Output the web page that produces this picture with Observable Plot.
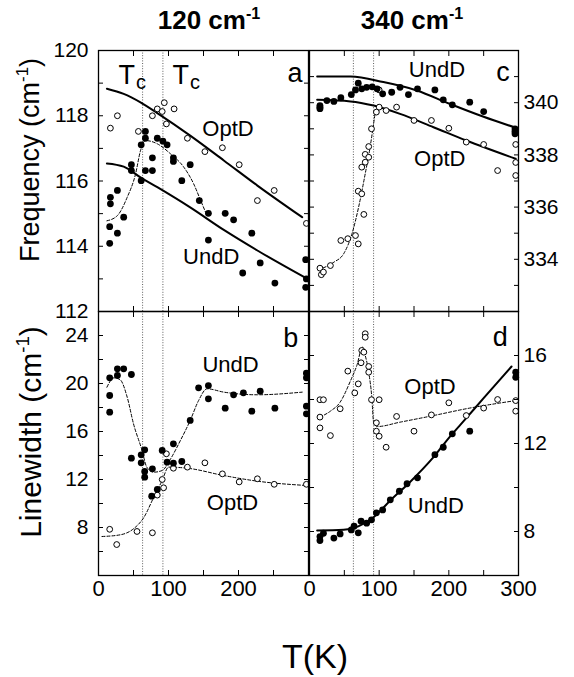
<!DOCTYPE html>
<html><head><meta charset="utf-8">
<script src="https://cdn.jsdelivr.net/npm/d3@7"></script>
<script src="https://cdn.jsdelivr.net/npm/@observablehq/plot@0.6"></script>
<style>
body{margin:0;background:#fff;}
#root{position:relative;width:574px;height:677px;font-family:"Liberation Sans",Arial,Helvetica,sans-serif;color:#000;overflow:hidden;}
#root svg{position:absolute;left:0;top:0;}
.lbl{position:absolute;white-space:nowrap;line-height:1;}
.lbl sup{font-size:0.62em;vertical-align:0.62em;line-height:0;}
</style></head><body><div id="root"></div>
<script>
// ---------- data ----------
const Tc = [63, 92];
const xTicks = [0, 50, 100, 150, 200, 250, 300];

// panel a : 120 cm-1 frequency
const aOptPts = [[17,117.62],[27,118.0],[57,117.52],[77,118.0],[84,118.21],[91,118.13],[94,118.40],[97,117.75],[108,118.21],[127,117.31],[152,116.90],[177,117.02],[201,116.50],[227,115.40],[251,115.71],[297,114.70]];
const aUndPts = [[16,114.09],[17,115.30],[17,115.50],[16,114.60],[27,114.40],[27,115.71],[36,114.89],[47,116.50],[47,116.32],[61,116.01],[61,117.11],[67,117.52],[67,117.31],[67,116.32],[77,116.32],[77,116.71],[84,117.31],[92,117.22],[98,117.11],[107,116.71],[107,116.60],[119,116.01],[131,116.50],[144,115.40],[157,115.01],[181,115.01],[193,114.81],[157,114.19],[219,114.40],[231,113.49],[206,113.18],[252,112.87],[296,113.59],[297,113.0],[296,112.74]];
const aOptFit = [[12,118.83],[36,118.67],[60,118.41],[84,118.08],[131,117.39],[179,116.63],[227,115.86],[291,114.89]];
const aUndFit = [[12,116.54],[36,116.44],[60,116.11],[84,115.81],[131,115.19],[179,114.50],[227,113.87],[296,113.03]];
const aUndDash = [[12,114.78],[27,114.94],[41,115.5],[53,116.22],[60,116.93],[67,117.24],[84,117.14],[103,116.83],[122,116.42],[136,115.91],[146,115.40],[153,115.04]];
const aYLabels = [112, 114, 116, 118, 120];
const aYTicks = [112, 113, 114, 115, 116, 117, 118, 119, 120];

// panel c : 340 cm-1 frequency
const cUndPts = [[15,339.89],[15,339.77],[15,339.83],[25,340.08],[35,340.05],[45,340.19],[60,340.31],[66,340.49],[70,340.75],[75,340.53],[82,340.59],[90,340.61],[97,340.53],[105,340.34],[118,340.40],[130,340.59],[142,340.31],[155,340.53],[180,340.49],[192,340.11],[205,339.92],[230,340.02],[250,339.66],[295,339.0],[295,338.81],[295,338.91]];
const cOptPts = [[15,333.66],[17,333.41],[20,333.51],[30,333.76],[45,334.72],[55,334.79],[66,334.91],[70,334.59],[78,335.72],[70,336.61],[75,336.51],[75,337.53],[80,337.72],[80,338.02],[85,337.91],[85,338.32],[89,339.0],[96,339.64],[100,339.83],[100,340.49],[110,339.70],[125,339.83],[150,339.32],[175,339.32],[200,339.02],[225,338.49],[250,338.40],[270,337.40],[296,338.40],[296,337.71],[296,337.21]];
const cUndFit = [[11,341.0],[59,341.0],[106,340.79],[154,340.47],[201,339.96],[249,339.47],[296,339.04]];
const cOptFit = [[11,340.11],[59,340.05],[92,339.89],[130,339.57],[178,339.06],[225,338.55],[296,337.85]];
const cOptDash = [[13,333.6],[35,333.89],[49,334.21],[61,334.98],[70.5,336.0],[80,337.28],[87,338.3],[92,339.19],[95,339.77]];
const cYLabels = [334, 336, 338, 340];
const cYTicks = [333, 334, 335, 336, 337, 338, 339, 340, 341];

// panel b : 120 cm-1 linewidth
const bUndPts = [[16,20.47],[16,19.0],[16,17.61],[27,21.22],[27,20.67],[36,21.22],[47,20.75],[47,13.78],[61,14.06],[61,13.39],[66,14.47],[66,12.67],[66,12.19],[77,12.89],[76,10.61],[84,11.17],[91,14.42],[98,13.44],[107,14.97],[107,13.36],[119,13.5],[131,16.92],[143,19.64],[157,19.83],[157,18.72],[181,17.94],[193,19.06],[207,19.22],[219,17.69],[231,19.36],[252,17.94],[297,20.86],[297,20.47],[297,18.11],[297,17.47]];
const bOptPts = [[16,7.85],[26,6.58],[55,7.67],[77,7.56],[84,10.7],[91,12.0],[93,11.31],[97,14.14],[107,12.94],[127,13.03],[152,13.39],[177,12.47],[201,11.8],[227,12.06],[251,11.6],[297,11.6]];
const bUndDash = [[12,19.69],[22,20.47],[31,20.31],[41,18.86],[50,16.64],[62,14.47],[69,13.03],[79,12.61],[91,12.75],[103,13.72],[117,15.25],[131,16.92],[143,18.58],[155,19.56],[179,19.28],[227,19.06],[291,19.28]];
const bOptDash = [[5,7.25],[31,7.39],[50,7.89],[65,8.86],[79,10.53],[91,11.92],[100,13.03],[127,12.94],[179,12.33],[227,11.86],[297,11.5]];
const bYLabels = [8, 12, 16, 20, 24];
const bYTicks = [6, 8, 10, 12, 14, 16, 18, 20, 22, 24, 26];

// panel d : 340 cm-1 linewidth
const dOptPts = [[15,13.2],[15,12.71],[15,13.99],[20,13.99],[30,12.36],[44,13.58],[55,15.29],[65,14.30],[70,14.71],[74,15.67],[75,16.23],[78,16.15],[80,16.99],[80,16.83],[85,15.5],[85,15.24],[89,13.99],[96,12.94],[96,12.56],[100,12.33],[100,13.99],[110,11.83],[125,13.23],[150,12.56],[175,13.30],[200,13.85],[225,13.27],[250,13.61],[270,14.0],[296,13.95],[296,13.47]];
const dUndPts = [[15,7.77],[15,7.59],[20,7.92],[35,7.70],[44,7.89],[60,8.07],[64,8.24],[70,7.94],[74,8.47],[82,8.38],[89,8.53],[96,8.85],[105,8.98],[116,9.44],[129,9.83],[140,10.17],[155,10.44],[180,11.49],[192,11.83],[205,12.44],[230,12.56],[296,15.24],[296,15.01]];
const dUndFit = [[11,8.05],[49,8.08],[70,8.23],[92,8.65],[116,9.41],[144,10.24],[178,11.38],[201,12.29],[225,13.15],[249,14.03],[290,15.5]];
const dOptDash = [[15,13.2],[30,13.47],[44,13.88],[59,14.86],[68,15.55],[76,16.38],[80,16.0],[85,15.24],[89.5,14.08],[92,12.97],[97,12.77],[130,12.97],[178,13.27],[225,13.58],[296,13.95]];
const dYLabels = [8, 12, 16];
const dYTicks = [6, 8, 10, 12, 14, 16, 18];

const xLabelsB = [0, 100, 200];
const xLabelsD = [0, 100, 200, 300];

// ---------- drawing ----------
const FONT = '"Liberation Sans", Arial, Helvetica, sans-serif';
const W = 574, H = 677;
const X = d => d[0], Y = d => d[1];

const filled = pts => Plot.dot(pts, {x: X, y: Y, r: 3.4, fill: "black", stroke: "none"});
const open = pts => Plot.dot(pts, {x: X, y: Y, r: 2.9, fill: "white", stroke: "black", strokeWidth: 1});
const solid = pts => Plot.line(pts, {x: X, y: Y, curve: "monotone-x", stroke: "black", strokeWidth: 2});
const dashed = pts => Plot.line(pts, {x: X, y: Y, curve: "monotone-x", stroke: "black", strokeWidth: 1, strokeDasharray: "3,2"});
const word = (s, x, y, size = 22, anchor = "middle") =>
  Plot.text([s], {x: () => x, y: () => y, text: d => d, fontSize: size, textAnchor: anchor, lineAnchor: "bottom", fill: "black"});

function panel({L, R, T, B, yd, yTicks, yLabels, ySide, xLabels, marks}) {
  const m = [
    Plot.ruleX(Tc, {x: d => d, stroke: "#333", strokeWidth: 0.8, strokeDasharray: "1,1.6"}),
    ...marks,
    Plot.axisX({anchor: "top", ticks: xTicks, tickSize: -5, tickFormat: () => "", label: null}),
    Plot.axisX({anchor: "bottom", ticks: xTicks, tickSize: -5, tickFormat: () => "", label: null}),
    Plot.axisY({anchor: "left", ticks: yTicks, tickSize: -5, tickFormat: () => "", label: null}),
    Plot.axisY({anchor: "right", ticks: yTicks, tickSize: -5, tickFormat: () => "", label: null}),
    Plot.axisY({anchor: ySide, ticks: yLabels, tickSize: 0, tickPadding: ySide === "left" ? 10 : 5, fontSize: 21, label: null, tickFormat: d => String(d)}),
    Plot.frame({stroke: "black", strokeWidth: 1.3})
  ];
  if (xLabels) m.push(Plot.axisX({anchor: "bottom", ticks: xLabels, tickSize: 0, tickPadding: 5, fontSize: 22, label: null, tickFormat: d => String(d)}));
  return Plot.plot({
    width: W, height: H,
    marginLeft: L, marginRight: W - R, marginTop: T, marginBottom: H - B,
    x: {domain: [0, 300], axis: null},
    y: {domain: yd, axis: null},
    style: {background: "transparent", fontFamily: FONT, overflow: "visible"},
    marks: m
  });
}

const root = document.getElementById("root");

root.append(panel({
  L: 98, R: 308, T: 50, B: 311, yd: [112, 120], yTicks: aYTicks, yLabels: aYLabels, ySide: "left",
  marks: [
    dashed(aUndDash), solid(aOptFit), solid(aUndFit), open(aOptPts), filled(aUndPts),
    word("OptD", 185, 117.37), word("UndD", 161, 113.46), word("a", 270, 119.03, 27, "start"),
    word("T", 28.6, 118.98, 27, "start"), word("c", 53.5, 118.83, 20, "start"),
    word("T", 105.7, 118.98, 27, "start"), word("c", 130.6, 118.83, 20, "start")
  ]
}));

root.append(panel({
  L: 309, R: 518, T: 50, B: 311, yd: [332, 342], yTicks: cYTicks, yLabels: cYLabels, ySide: "right",
  marks: [
    dashed(cOptDash), solid(cUndFit), solid(cOptFit), open(cOptPts), filled(cUndPts),
    word("UndD", 182.9, 341.0), word("OptD", 187, 337.59), word("c", 268, 340.85, 27, "start")
  ]
}));

root.append(panel({
  L: 98, R: 308, T: 311, B: 575, yd: [4, 26], yTicks: bYTicks, yLabels: bYLabels, ySide: "left", xLabels: xLabelsB,
  marks: [
    dashed(bUndDash), dashed(bOptDash), open(bOptPts), filled(bUndPts),
    word("UndD", 188.6, 20.94), word("OptD", 191.4, 9.42), word("b", 264, 23.03, 27, "start")
  ]
}));

root.append(panel({
  L: 309, R: 518, T: 311, B: 575, yd: [6, 18], yTicks: dYTicks, yLabels: dYLabels, ySide: "right", xLabels: xLabelsD,
  marks: [
    dashed(dOptDash), solid(dUndFit), open(dOptPts), filled(dUndPts),
    word("OptD", 172.9, 14.27), word("UndD", 181.4, 8.86), word("d", 263, 16.45, 27, "start")
  ]
}));

// ---------- titles and axis names ----------
function label(html, {cx, top, cy, size, bold = false, rotate = false}) {
  const el = document.createElement("div");
  el.className = "lbl";
  el.innerHTML = html;
  el.style.fontSize = size + "px";
  if (bold) el.style.fontWeight = "bold";
  el.style.left = cx + "px";
  if (rotate) {
    el.style.top = cy + "px";
    el.style.transform = "translate(-50%,-50%) rotate(-90deg)";
  } else {
    el.style.top = top + "px";
    el.style.transform = "translateX(-50%)";
  }
  root.append(el);
}
label("120 cm<sup>-1</sup>", {cx: 209, top: 7, size: 26, bold: true});
label("340 cm<sup>-1</sup>", {cx: 412, top: 7, size: 26, bold: true});
label("Frequency (cm<sup>-1</sup>)", {cx: 30, cy: 160, size: 27, rotate: true});
label("Linewidth (cm<sup>-1</sup>)", {cx: 31, cy: 432, size: 30, rotate: true});
label("T(K)", {cx: 315, top: 639, size: 34});
</script></body></html>
